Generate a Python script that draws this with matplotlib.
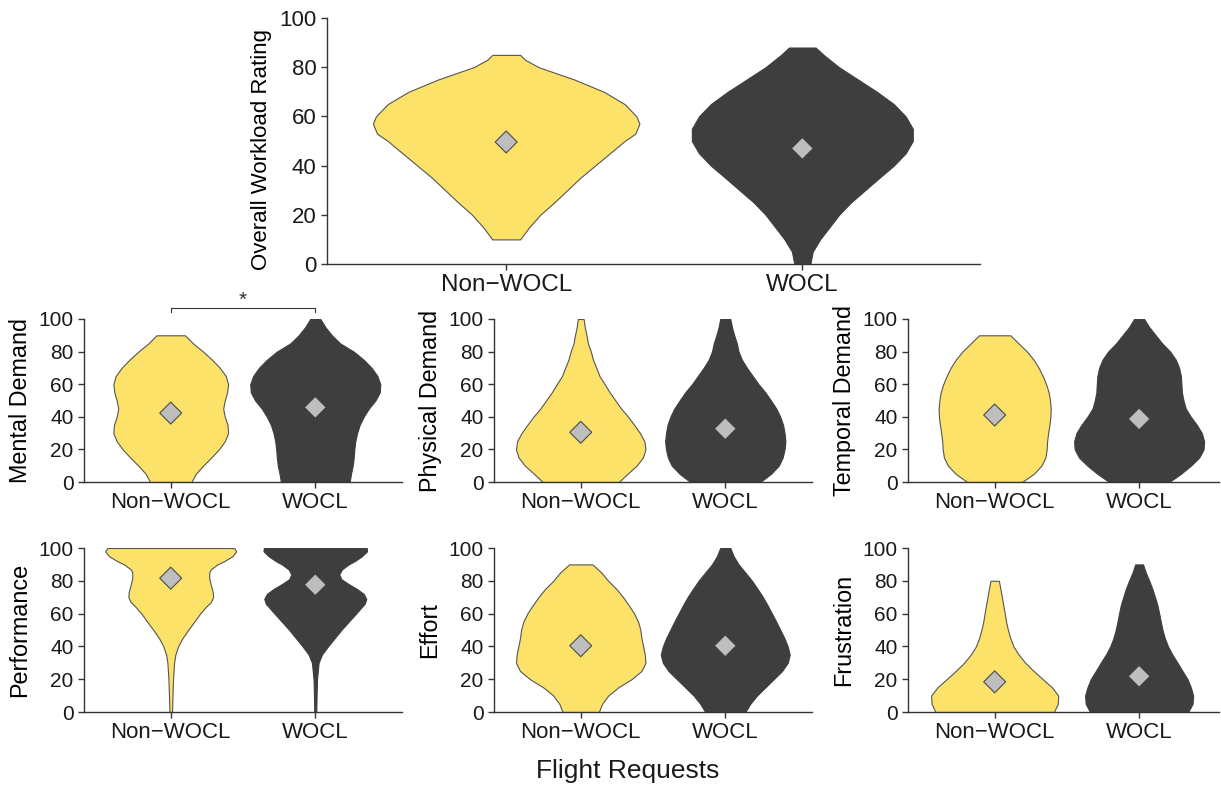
import matplotlib.pyplot as plt
import numpy as np

plt.rcParams['font.family'] = ['Liberation Sans', 'DejaVu Sans']

groups = ["Non\u2212WOCL", "WOCL"]

# violin outlines: score levels and half widths (in category units)
overall_non_y = [10, 15, 20, 25, 30, 35, 40, 45, 50, 53, 57, 60, 65, 70, 75, 80, 83, 85]
overall_non_w = [0.047, 0.078, 0.115, 0.162, 0.206, 0.25, 0.30, 0.35, 0.40, 0.436, 0.45,
                 0.44, 0.40, 0.33, 0.23, 0.11, 0.064, 0.047]
overall_wocl_y = [0, 5, 10, 15, 20, 25, 30, 35, 40, 45, 50, 55, 60, 65, 70, 75, 80, 85, 88]
overall_wocl_w = [0.027, 0.035, 0.06, 0.092, 0.124, 0.164, 0.212, 0.26, 0.309, 0.349, 0.373,
                  0.373, 0.349, 0.309, 0.252, 0.188, 0.124, 0.072, 0.045]

mental_non_y = list(range(0, 91, 5))
mental_non_w = [0.143, 0.173, 0.224, 0.28, 0.333, 0.374, 0.397, 0.393, 0.374, 0.363, 0.374,
                0.39, 0.397, 0.381, 0.34, 0.286, 0.224, 0.155, 0.099]
mental_wocl_y = list(range(0, 101, 5))
mental_wocl_w = [0.238, 0.247, 0.259, 0.266, 0.27, 0.277, 0.289, 0.307, 0.335, 0.37, 0.416,
                 0.446, 0.45, 0.43, 0.39, 0.335, 0.266, 0.173, 0.115, 0.07, 0.035]

physical_non_y = list(range(0, 101, 5))
physical_non_w = [0.263, 0.323, 0.386, 0.43, 0.448, 0.44, 0.41, 0.37, 0.328, 0.28, 0.24,
                  0.2, 0.166, 0.13, 0.108, 0.085, 0.07, 0.05, 0.04, 0.028, 0.02]
physical_wocl_y = list(range(0, 101, 5))
physical_wocl_w = [0.242, 0.316, 0.37, 0.397, 0.41, 0.416, 0.41, 0.4, 0.38, 0.353, 0.316,
                   0.277, 0.23, 0.19, 0.15, 0.115, 0.092, 0.08, 0.062, 0.046, 0.035]

temporal_non_y = list(range(0, 91, 5))
temporal_non_w = [0.19, 0.27, 0.323, 0.351, 0.36, 0.363, 0.37, 0.379, 0.386, 0.388, 0.383,
                  0.374, 0.356, 0.333, 0.305, 0.27, 0.224, 0.166, 0.109]
temporal_wocl_y = list(range(0, 101, 5))
temporal_wocl_w = [0.208, 0.289, 0.358, 0.416, 0.446, 0.45, 0.434, 0.4, 0.358, 0.323, 0.307,
                   0.296, 0.293, 0.289, 0.277, 0.254, 0.215, 0.16, 0.115, 0.07, 0.035]

perf_non_y = [0, 10, 20, 30, 35, 40, 45, 50, 55, 60, 64, 67, 70, 73, 76, 79, 82, 85, 87, 90,
              92, 95, 98, 100]
perf_non_w = [0.009, 0.012, 0.016, 0.023, 0.032, 0.051, 0.081, 0.12, 0.162, 0.203, 0.242,
              0.277, 0.293, 0.291, 0.282, 0.273, 0.266, 0.266, 0.277, 0.323, 0.37, 0.427,
              0.453, 0.439]
perf_wocl_y = [0, 10, 20, 30, 35, 40, 45, 50, 55, 60, 63, 66, 69, 72, 75, 78, 81, 84, 87, 90,
               92, 95, 98, 100]
perf_wocl_w = [0.007, 0.009, 0.012, 0.023, 0.046, 0.088, 0.134, 0.18, 0.231, 0.282, 0.312,
               0.342, 0.353, 0.335, 0.289, 0.231, 0.18, 0.166, 0.185, 0.231, 0.273, 0.323,
               0.358, 0.356]

effort_non_y = list(range(0, 91, 5))
effort_non_w = [0.125, 0.148, 0.19, 0.259, 0.351, 0.42, 0.448, 0.443, 0.432, 0.42, 0.413,
                0.397, 0.37, 0.333, 0.293, 0.247, 0.19, 0.143, 0.081]
effort_wocl_y = list(range(0, 101, 5))
effort_wocl_w = [0.139, 0.173, 0.219, 0.277, 0.335, 0.393, 0.432, 0.446, 0.432, 0.409, 0.381,
                 0.353, 0.323, 0.293, 0.261, 0.224, 0.185, 0.139, 0.092, 0.058, 0.035]

frust_non_y = list(range(0, 81, 5))
frust_non_w = [0.41, 0.437, 0.44, 0.397, 0.333, 0.27, 0.212, 0.166, 0.13, 0.108, 0.092,
               0.079, 0.07, 0.06, 0.05, 0.04, 0.029]
frust_wocl_y = list(range(0, 91, 5))
frust_wocl_w = [0.34, 0.37, 0.374, 0.358, 0.335, 0.3, 0.266, 0.23, 0.2, 0.178, 0.162, 0.15,
                0.139, 0.127, 0.11, 0.092, 0.07, 0.046, 0.027]

# group means (diamonds)
overall_means = [49.6, 47.0]
mental_means = [42.3, 45.8]
physical_means = [30.5, 32.7]
temporal_means = [41.1, 38.7]
perf_means = [81.6, 77.6]
effort_means = [40.4, 40.4]
frust_means = [18.4, 21.8]

YELLOW = '#FDE26A'
DARK = '#3E3E3E'
DIAMOND = '#BEBEBE'
W, H = 1221, 787


def box(l, r, t, b):
    return [l / W, 1 - b / H, (r - l) / W, (b - t) / H]


def draw_panel(fig, rect, xlim, profiles, means, ylabel, xsize=16, ysize=15, lsize=16.8):
    ax = fig.add_axes(rect)
    stats = []
    for (ys, ws), m in zip(profiles, means):
        stats.append({'coords': np.array(ys, float), 'vals': np.array(ws, float),
                      'mean': m, 'median': m, 'min': ys[0], 'max': ys[-1]})
    widths = [2 * max(ws) for ys, ws in profiles]
    parts = ax.violin(stats, positions=[0, 1], widths=widths,
                      showmeans=False, showextrema=False, showmedians=False)
    for body, face, edge in zip(parts['bodies'], [YELLOW, DARK], ['#555555', DARK]):
        body.set_facecolor(face)
        body.set_edgecolor(edge)
        body.set_linewidth(0.8)
        body.set_alpha(1)
        body.set_joinstyle('round')
    ax.scatter([0, 1], means, marker='D', s=125, c=DIAMOND,
               edgecolors=['#4a4a4a', DARK], linewidths=0.8, zorder=3)

    ax.set_xlim(*xlim)
    ax.set_ylim(0, 100)
    ax.set_yticks(range(0, 101, 20))
    ax.set_xticks([0, 1], groups)
    ax.set_ylabel(ylabel, fontsize=lsize, labelpad=5)
    for side in ['top', 'right']:
        ax.spines[side].set_visible(False)
    for side in ['left', 'bottom']:
        ax.spines[side].set_linewidth(1.0)
        ax.spines[side].set_color('#333333')
    ax.tick_params(length=4, width=1, color='#333333', labelcolor='#1a1a1a')
    ax.tick_params(axis='x', labelsize=xsize)
    ax.tick_params(axis='y', labelsize=ysize)
    return ax


fig = plt.figure(figsize=(12.21, 7.87), dpi=100)

ax_top = draw_panel(fig, box(327, 980, 18, 264), (-0.605, 1.6),
                    [(overall_non_y, overall_non_w), (overall_wocl_y, overall_wocl_w)],
                    overall_means, 'Overall Workload Rating', xsize=17.5, ysize=16, lsize=16)
ax_top.yaxis.set_label_coords(-0.084, 0.467)

cols = [(84, 402, (-0.6, 1.6)), (494, 812, (-0.6, 1.6)), (908, 1219, (-0.6, 1.553))]
rows = [(319, 482), (548, 712)]

panels = [
    ([(mental_non_y, mental_non_w), (mental_wocl_y, mental_wocl_w)], mental_means, 'Mental Demand'),
    ([(physical_non_y, physical_non_w), (physical_wocl_y, physical_wocl_w)], physical_means, 'Physical Demand'),
    ([(temporal_non_y, temporal_non_w), (temporal_wocl_y, temporal_wocl_w)], temporal_means, 'Temporal Demand'),
    ([(perf_non_y, perf_non_w), (perf_wocl_y, perf_wocl_w)], perf_means, 'Performance'),
    ([(effort_non_y, effort_non_w), (effort_wocl_y, effort_wocl_w)], effort_means, 'Effort'),
    ([(frust_non_y, frust_non_w), (frust_wocl_y, frust_wocl_w)], frust_means, 'Frustration'),
]

axes = []
for i, (profiles, means, label) in enumerate(panels):
    t, b = rows[i // 3]
    l, r, xl = cols[i % 3]
    axes.append(draw_panel(fig, box(l, r, t, b), xl, profiles, means, label))

# significance bracket on Mental Demand
ax_m = axes[0]
ax_m.plot([0, 0, 1, 1], [104.5, 106.7, 106.7, 104.5], color='#333333', lw=0.8, clip_on=False)
ax_m.text(0.5, 105.5, '*', ha='center', va='bottom', fontsize=15, color='#333333')

fig.text(628 / W, 1 - 771 / H, 'Flight Requests', ha='center', va='center', fontsize=19,
         color='#1a1a1a')

fig.savefig('out.png', dpi=100)
